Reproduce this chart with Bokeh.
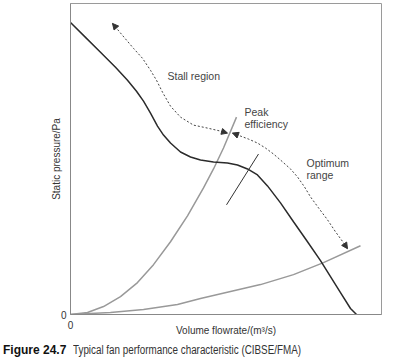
from bokeh.plotting import figure
from bokeh.layouts import column
from bokeh.models import Arrow, NormalHead, Label, FixedTicker, Range1d, Div
from bokeh.embed import file_html
from bokeh.resources import INLINE

# Fan characteristic (static pressure vs volume flowrate), arbitrary units
fan_q = [0, 15, 30, 45, 57, 66, 73, 80, 87, 93, 100, 110, 120, 130, 143, 157, 167,
         177, 187, 197, 210, 223, 237, 250, 260, 270, 280, 286]
fan_p = [293, 278, 263, 248, 235, 224, 214, 202, 189, 180, 172, 163, 158, 155, 153,
         152, 150, 146, 140, 129, 112, 93, 73, 54, 38, 22, 6, 0]

# System curve through peak efficiency
sys1_q = [0, 17, 33, 50, 67, 83, 100, 117, 133, 143, 153, 166]
sys1_p = [0, 2, 8, 18, 32, 50, 73, 99, 127, 146, 167, 198]

# System curve at end of optimum range
sys2_q = [0, 40, 73, 107, 130, 160, 190, 223, 253, 290]
sys2_p = [0, 2, 5, 10, 16, 23, 30, 40, 52, 69]

# Dashed arrow: stall region
stall_q = [42, 52, 63, 72, 80, 86, 92, 100, 110, 123, 137, 150, 157]
stall_p = [292, 280, 267, 257, 245, 235, 223, 209, 198, 190, 187, 184, 182]

# Dashed arrow: optimum range
opt_q = [162, 170, 178, 187, 195, 203, 210, 220, 227, 234, 240, 248, 257, 265, 273, 277]
opt_p = [182, 179, 176, 172, 167, 161, 155, 146, 138, 128, 118, 107, 95, 83, 72, 66]

# Short marker line across the fan curve
mark_q = [156, 188]
mark_p = [110, 161]

tick_values = [0]
x_label = "Volume flowrate/(m³/s)"
y_label = "Static pressure/Pa"
annotations = ["Stall region", "Peak", "efficiency", "Optimum", "range"]
ann_q = [97, 174, 174, 236, 236]
ann_p = [239, 203, 191, 152, 140]
caption_bold = "Figure 24.7"
caption_text = "Typical fan performance characteristic (CIBSE/FMA)"

p = figure(width=394, height=335, x_range=Range1d(0, 311), y_range=Range1d(0, 312),
           output_backend="svg", toolbar_location=None,
           min_border_left=67, min_border_right=16, min_border_top=0, min_border_bottom=23)
p.background_fill_color = "white"
p.border_fill_color = "white"
p.outline_line_color = "#9a9a9a"
p.outline_line_width = 1
p.xgrid.visible = False
p.ygrid.visible = False

for ax in (p.xaxis[0], p.yaxis[0]):
    ax.ticker = FixedTicker(ticks=tick_values)
    ax.major_tick_line_color = None
    ax.minor_tick_line_color = None
    ax.major_tick_out = 0
    ax.major_tick_in = 0
    ax.minor_tick_out = 0
    ax.axis_line_color = "#888888"
    ax.major_label_text_font_size = "10px"
    ax.major_label_text_font = "Liberation Sans"
    ax.major_label_text_color = "#333333"
    ax.axis_label_text_font_size = "10px"
    ax.axis_label_text_font = "Liberation Sans"
    ax.axis_label_text_font_style = "normal"
    ax.axis_label_text_color = "#333333"

p.xaxis.axis_label = x_label
p.yaxis.axis_label = y_label
p.xaxis.major_label_standoff = 6
p.xaxis.axis_label_standoff = -7
p.yaxis.major_label_standoff = 4
p.yaxis.axis_label_standoff = -4

p.line(sys1_q, sys1_p, line_color="#999999", line_width=1.5)
p.line(sys2_q, sys2_p, line_color="#999999", line_width=1.5)
p.line(fan_q, fan_p, line_color="#2b2b2b", line_width=1.5)
p.line(mark_q, mark_p, line_color="#333333", line_width=1)
p.line(stall_q, stall_p, line_color="#444444", line_width=1, line_dash="2 2")
p.line(opt_q, opt_p, line_color="#444444", line_width=1, line_dash="2 2")

def head(q, pr, i_from, i_to):
    p.add_layout(Arrow(end=NormalHead(size=6, fill_color="#333333", line_color="#333333"),
                       x_start=q[i_from], y_start=pr[i_from], x_end=q[i_to], y_end=pr[i_to],
                       line_alpha=0))

head(stall_q, stall_p, 1, 0)
head(stall_q, stall_p, -2, -1)
head(opt_q, opt_p, 1, 0)
head(opt_q, opt_p, -2, -1)

for t, q, pr in zip(annotations, ann_q, ann_p):
    p.add_layout(Label(x=q, y=pr, text=t, text_font="Liberation Sans", text_font_size="10.5px",
                       text_color="#444444", text_baseline="middle", text_align="left"))

# Caption line below the chart
cap_html = (
    '<div style="white-space:nowrap;line-height:20px;height:20px;">'
    '<span style="display:inline-block;width:70px;font-family:\'Liberation Sans\';'
    'font-weight:bold;font-size:12px;color:#111;">' + caption_bold + '</span>'
    '<span style="display:inline-block;transform:scaleX(0.82);transform-origin:left center;'
    'font-family:\'Liberation Sans\';font-size:12px;color:#333;">' + caption_text + '</span>'
    '</div>'
)
cap = Div(text=cap_html, width=394, height=20, margin=(2, 0, 0, 0))

layout = column(p, cap, spacing=0, margin=(3, 0, 0, 3))
open("out.html", "w").write(file_html(layout, INLINE))
